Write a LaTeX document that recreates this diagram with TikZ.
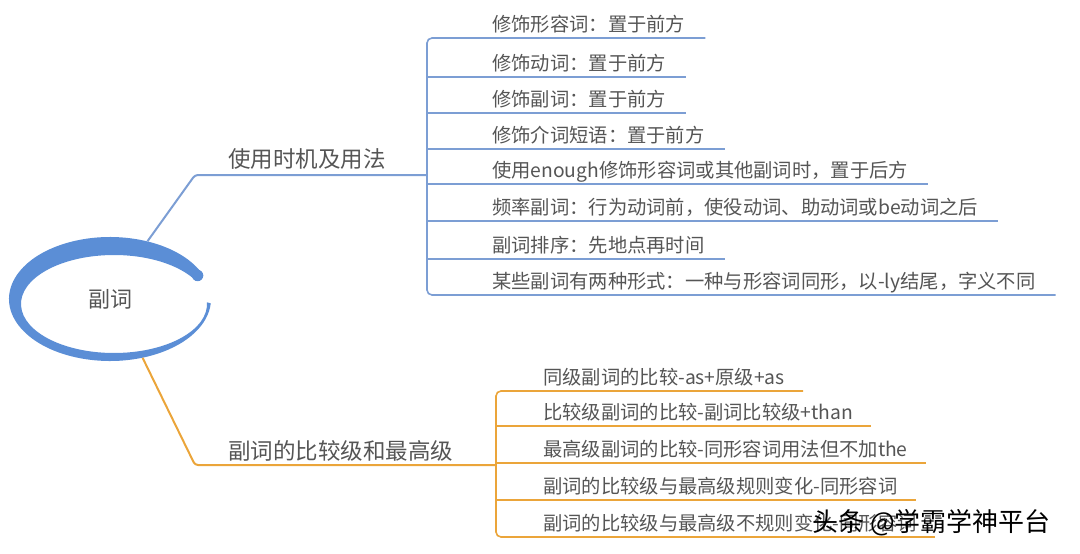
\documentclass[tikz,border=0pt]{standalone}
\usepackage{fontspec}
\setmainfont{Noto Sans CJK SC}
\usepackage{tikz}
\usetikzlibrary{positioning, shapes.geometric}
\definecolor{rootblue}{HTML}{5B8ED6}
\definecolor{lineblue}{HTML}{7C9ED4}
\definecolor{lineorange}{HTML}{EBA53A}
\definecolor{txtgray}{HTML}{555555}

\begin{document}
\begin{tikzpicture}[x=1pt,y=1pt,
  item/.style={anchor=base west,inner sep=0pt,text=txtgray,font=\fontsize{19.3}{21}\selectfont},
  branch/.style={anchor=base west,inner sep=0pt,text=txtgray,font=\fontsize{22.5}{25}\selectfont},
  bluel/.style={lineblue,line width=1.6pt},
  orangel/.style={lineorange,line width=1.6pt}]
\useasboundingbox (0,0) rectangle (1080,-554);

% central topic
\fill[rootblue] ([shift={(28:101pt and 62pt)}]110,-299)
  arc[start angle=28,end angle=356,x radius=101pt,y radius=62pt]
  -- ([shift={(362:93pt and 49pt)}]114,-304)
  arc[start angle=362,end angle=28,x radius=93pt,y radius=49pt] -- cycle;
\fill[rootblue] (197.6,-275.5) circle (5.7pt);
\node[ellipse,minimum width=202pt,minimum height=124pt,inner sep=0pt,
      text=txtgray,font=\fontsize{22}{24}\selectfont] (root) at (110,-299) {副词};

% first branch
\node[branch] (use) at (228,-167) {使用时机及用法};
\coordinate (k1) at (195,-175);
\coordinate (j1) at (427,-175);
\draw[bluel,line width=2pt,rounded corners=3pt] (root.57) -- (k1) -- (j1);

\foreach \i/\y/\t in {1/38/修饰形容词：置于前方,
                      2/77/修饰动词：置于前方,
                      3/113/修饰副词：置于前方,
                      4/149/修饰介词短语：置于前方,
                      5/184/使用enough修饰形容词或其他副词时，置于后方,
                      6/221/频率副词：行为动词前，使役动词、助动词或be动词之后,
                      7/259/副词排序：先地点再时间,
                      8/295/某些副词有两种形式：一种与形容词同形，以-ly结尾，字义不同}
{
  \coordinate (ub\i) at (427,-\y);
  \node[item] (u\i) at (492,-\y+7) {\t};
}
\foreach \i in {2,...,7}
  \draw[bluel] (ub\i) -- ([xshift=20pt]ub\i -| u\i.base east);
\draw[bluel,rounded corners=5pt] ([xshift=20pt]ub1 -| u1.base east) -- (ub1)
  -- (ub8) -- ([xshift=20pt]ub8 -| u8.base east);

% second branch
\node[branch] (cmp) at (228,-459) {副词的比较级和最高级};
\coordinate (k2) at (195,-465);
\coordinate (j2) at (496,-465);
\draw[orangel,line width=2pt,rounded corners=3pt] (root.-61) -- (k2) -- (j2);

\foreach \i/\y/\t in {1/391/同级副词的比较-as+原级+as,
                      2/426/比较级副词的比较-副词比较级+than,
                      3/463/最高级副词的比较-同形容词用法但不加the,
                      4/500/副词的比较级与最高级规则变化-同形容词,
                      5/537/副词的比较级与最高级不规则变化-同形容词}
{
  \coordinate (cb\i) at (496,-\y);
  \node[item] (c\i) at (543,-\y+7) {\t};
}
\foreach \i in {2,...,4}
  \draw[orangel] (cb\i) -- ([xshift=18pt]cb\i -| c\i.base east);
\draw[orangel,rounded corners=5pt] ([xshift=18pt]cb1 -| c1.base east) -- (cb1)
  -- (cb5) -- ([xshift=18pt]cb5 -| c5.base east);

% watermark
\node[anchor=west,inner sep=0pt,font=\fontsize{26}{28}\selectfont] (mark) at (812,-523) {头条 @学霸学神平台};
\end{tikzpicture}
\end{document}
